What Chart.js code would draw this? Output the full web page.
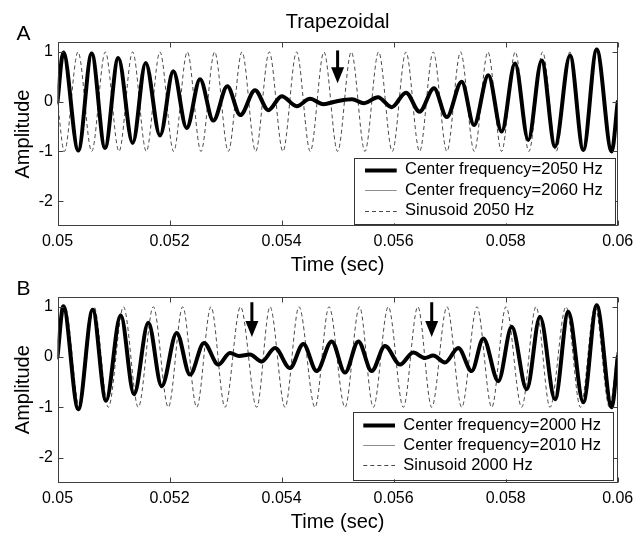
<!DOCTYPE html>
<html><head><meta charset="utf-8">
<script src="https://cdn.jsdelivr.net/npm/chart.js@4.4.1/dist/chart.umd.min.js"></script>
<style>
html,body{margin:0;padding:0;background:#fff;}
#wrap{position:relative;width:644px;height:545px;overflow:hidden;background:#fff;}
canvas{position:absolute;left:0;}
#cA{top:0;} #cB{top:272px;}
</style></head><body>
<div id="wrap"><canvas id="cA" width="644" height="280"></canvas><canvas id="cB" width="644" height="273"></canvas></div>
<script>
// ---------- data ----------
const xTickValues = [0.05, 0.052, 0.054, 0.056, 0.058, 0.06];
const yTickValues = [-2, -1, 0, 1];

// Panel A: extrema of the filtered signals
const timeA = [0.050000, 0.050104, 0.050371, 0.050610, 0.050848, 0.051085, 0.051342, 0.051574, 0.051830, 0.052067, 0.052306, 0.052544, 0.052781, 0.053031, 0.053263, 0.053526, 0.053763, 0.054002, 0.054270, 0.054507, 0.054745, 0.054989, 0.055257, 0.055471, 0.055721, 0.055966, 0.056221, 0.056462, 0.056721, 0.056948, 0.057215, 0.057435, 0.057690, 0.057929, 0.058167, 0.058404, 0.058643, 0.058881, 0.059149, 0.059386, 0.059625, 0.059893, 0.060000];
const centerA2050 = [0, 0.99, -0.98, 0.97, -0.93, 0.88, -0.83, 0.78, -0.68, 0.61, -0.53, 0.45, -0.38, 0.31, -0.27, 0.23, -0.17, 0.11, -0.09, 0.06, -0.05, 0.01, 0.05, -0.03, 0.09, -0.11, 0.18, -0.20, 0.27, -0.31, 0.40, -0.47, 0.53, -0.60, 0.77, -0.77, 0.83, -0.90, 0.93, -0.97, 1.05, -1.00, 0];
const centerA2060 = [0, 0.98, -0.97, 0.96, -0.92, 0.87, -0.82, 0.77, -0.67, 0.60, -0.52, 0.44, -0.37, 0.30, -0.26, 0.22, -0.16, 0.12, -0.07, 0.08, -0.03, 0.03, 0.03, -0.05, 0.11, -0.13, 0.20, -0.23, 0.29, -0.33, 0.42, -0.49, 0.55, -0.62, 0.78, -0.79, 0.85, -0.92, 0.95, -0.98, 1.04, -1.02, 0];
// Panel A: extrema of the 2050 Hz sinusoid
const sineTimeA = [0.050000, 0.050122, 0.050366, 0.050610, 0.050854, 0.051098, 0.051341, 0.051585, 0.051829, 0.052073, 0.052317, 0.052561, 0.052805, 0.053049, 0.053293, 0.053537, 0.053780, 0.054024, 0.054268, 0.054512, 0.054756, 0.055000, 0.055244, 0.055488, 0.055732, 0.055976, 0.056220, 0.056463, 0.056707, 0.056951, 0.057195, 0.057439, 0.057683, 0.057927, 0.058171, 0.058415, 0.058659, 0.058902, 0.059146, 0.059390, 0.059634, 0.059878, 0.060000];
const sineA2050 = [0, -1, 1, -1, 1, -1, 1, -1, 1, -1, 1, -1, 1, -1, 1, -1, 1, -1, 1, -1, 1, -1, 1, -1, 1, -1, 1, -1, 1, -1, 1, -1, 1, -1, 1, -1, 1, -1, 1, -1, 1, -1, 0];

// Panel B: extrema of the filtered signals
const timeB = [0.050000, 0.050104, 0.050371, 0.050628, 0.050866, 0.051128, 0.051366, 0.051621, 0.051860, 0.052128, 0.052365, 0.052615, 0.052870, 0.053079, 0.053240, 0.053436, 0.053645, 0.053883, 0.054150, 0.054388, 0.054627, 0.054895, 0.055132, 0.055370, 0.055609, 0.055846, 0.056114, 0.056351, 0.056560, 0.056708, 0.056917, 0.057155, 0.057394, 0.057601, 0.057869, 0.058108, 0.058376, 0.058613, 0.058881, 0.059118, 0.059386, 0.059625, 0.059893, 0.060000];
const centerB2000 = [0, 1.01, -1.04, 0.94, -0.87, 0.83, -0.74, 0.68, -0.58, 0.48, -0.35, 0.28, -0.15, 0.08, 0.02, 0.05, -0.09, 0.18, -0.22, 0.26, -0.28, 0.31, -0.31, 0.31, -0.28, 0.22, -0.15, 0.09, -0.02, 0.03, -0.11, 0.18, -0.28, 0.37, -0.48, 0.60, -0.64, 0.80, -0.84, 0.90, -0.90, 1.03, -1.00, 0];
const centerB2010 = [0, 1.00, -1.03, 0.95, -0.88, 0.84, -0.75, 0.69, -0.60, 0.50, -0.37, 0.30, -0.18, 0.11, 0.00, 0.07, -0.12, 0.20, -0.24, 0.28, -0.30, 0.33, -0.33, 0.33, -0.30, 0.24, -0.17, 0.11, -0.04, 0.05, -0.13, 0.20, -0.30, 0.39, -0.50, 0.61, -0.66, 0.81, -0.86, 0.91, -0.92, 1.02, -1.01, 0];
// Panel B: extrema of the 2000 Hz sinusoid
const sineTimeB = [0.050000, 0.050134, 0.050393, 0.050652, 0.050907, 0.051178, 0.051442, 0.051710, 0.051978, 0.052235, 0.052485, 0.052740, 0.052990, 0.053267, 0.053556, 0.053793, 0.054061, 0.054311, 0.054597, 0.054847, 0.055132, 0.055391, 0.055637, 0.055905, 0.056173, 0.056432, 0.056680, 0.056953, 0.057215, 0.057488, 0.057751, 0.058006, 0.058286, 0.058542, 0.058792, 0.059077, 0.059336, 0.059595, 0.059854, 0.060000];
const sineB2000 = [-0.05, 1, -1, 1, -1, 1, -1, 1, -1, 1, -1, 1, -1, 1, -1, 1, -1, 1, -1, 1, -1, 1, -1, 1, -1, 1, -1, 1, -1, 1, -1, 1, -1, 1, -1, 1, -1, 1, -1, 0.2];

const arrowTimesA = [0.055];
const arrowTimesB = [0.05347, 0.05668];

const labelsA = ['Center frequency=2050 Hz', 'Center frequency=2060 Hz', 'Sinusoid 2050 Hz'];
const labelsB = ['Center frequency=2000 Hz', 'Center frequency=2010 Hz', 'Sinusoid 2000 Hz'];

// ---------- rendering ----------
const FONT = '"Liberation Sans", Arial, Helvetica, sans-serif';
Chart.defaults.font.family = FONT;
Chart.defaults.color = '#000';

function pts(t, v) { return t.map((tt, i) => ({x: tt, y: v[i]})); }

const framePlugin = {
  id: 'frame',
  afterDatasetsDraw(chart, args, o) {
    const {ctx, chartArea: a, scales: {x, y}} = chart;
    ctx.save();
    // box
    ctx.strokeStyle = '#404040'; ctx.lineWidth = 1;
    const L = Math.round(a.left) + 0.5, R = Math.round(a.right) - 0.5, T = Math.round(a.top) + 0.5, B = Math.round(a.bottom) - 0.5;
    ctx.strokeRect(L, T, R - L, B - T);
    // inward ticks
    const tl = 5;
    ctx.beginPath();
    xTickValues.forEach(v => {
      const px = Math.round(x.getPixelForValue(v)) + 0.5;
      ctx.moveTo(px, B); ctx.lineTo(px, B - tl);
      ctx.moveTo(px, T); ctx.lineTo(px, T + tl);
    });
    yTickValues.forEach(v => {
      const py = Math.round(y.getPixelForValue(v)) + 0.5;
      ctx.moveTo(L, py); ctx.lineTo(L + tl, py);
      ctx.moveTo(R, py); ctx.lineTo(R - tl, py);
    });
    ctx.stroke();
    // arrows
    ctx.fillStyle = '#000';
    o.arrows.forEach(t => {
      const px = x.getPixelForValue(t);
      const top = y.getPixelForValue(o.arrowTop), tip = y.getPixelForValue(o.arrowTip);
      const headH = 16, headW = 6.5;
      ctx.fillRect(px - 1.5, top, 3, tip - top - headH + 1);
      ctx.beginPath();
      ctx.moveTo(px - headW, tip - headH); ctx.lineTo(px + headW, tip - headH); ctx.lineTo(px, tip);
      ctx.closePath(); ctx.fill();
    });
    // legend
    const lg = o.legend;
    ctx.fillStyle = '#fff';
    ctx.fillRect(lg.x, lg.y, lg.w, lg.h);
    ctx.strokeStyle = '#333'; ctx.lineWidth = 1;
    ctx.strokeRect(Math.round(lg.x) + 0.5, Math.round(lg.y) + 0.5, Math.round(lg.w), Math.round(lg.h));
    ctx.font = '16.5px ' + FONT;
    ctx.textBaseline = 'middle'; ctx.textAlign = 'left';
    chart.data.datasets.forEach((ds, i) => {
      const ry = lg.y + lg.row0 + lg.gap * i;
      ctx.save();
      ctx.strokeStyle = ds.borderColor; ctx.lineWidth = ds.borderWidth;
      ctx.setLineDash(ds.borderDash || []);
      ctx.beginPath();
      ctx.moveTo(lg.x + lg.s0, Math.round(ry) + 0.5); ctx.lineTo(lg.x + lg.s1, Math.round(ry) + 0.5);
      ctx.stroke();
      ctx.restore();
      ctx.fillStyle = '#000';
      ctx.fillText(ds.label, lg.x + lg.tx, ry);
    });
    // panel texts
    ctx.textBaseline = 'alphabetic';
    o.texts.forEach(tx => {
      ctx.font = tx.size + 'px ' + FONT;
      ctx.textAlign = tx.align;
      ctx.fillStyle = '#000';
      const xx = tx.center ? (a.left + a.right) / 2 : tx.x;
      ctx.fillText(tx.text, xx, tx.y);
    });
    ctx.restore();
  }
};

function makeChart(id, cfg) {
  const datasets = [
    {label: cfg.labels[0], data: pts(cfg.t, cfg.v1), borderColor: '#000', borderWidth: 4, borderJoinStyle: 'round', borderCapStyle: 'round'},
    {label: cfg.labels[1], data: pts(cfg.t, cfg.v2), borderColor: '#8c8c8c', borderWidth: 1},
    {label: cfg.labels[2], data: pts(cfg.st, cfg.sv), borderColor: '#4a4a4a', borderWidth: 1, borderDash: [4, 3]}
  ];
  datasets.forEach(d => { d.pointRadius = 0; d.pointHoverRadius = 0; d.fill = false; d.cubicInterpolationMode = 'monotone'; });
  return new Chart(document.getElementById(id), {
    type: 'line',
    data: {datasets},
    plugins: [framePlugin],
    options: {
      responsive: false, animation: false, events: [],
      layout: {padding: {left: 0, right: 26.3, top: cfg.padTop, bottom: 0}},
      scales: {
        x: {
          type: 'linear', min: 0.05, max: 0.06,
          afterBuildTicks: s => { s.ticks = xTickValues.map(v => ({value: v})); },
          afterFit: s => { s.height = cfg.xHeight; },
          grid: {display: false, drawTicks: false},
          border: {display: false},
          ticks: {padding: 6, font: {size: 16}, maxRotation: 0, autoSkip: false,
                  callback: v => String(parseFloat(Number(v).toFixed(4)))},
          title: {display: true, text: 'Time (sec)', font: {size: 20}, padding: {top: 0, bottom: cfg.xTitlePad}}
        },
        y: {
          type: 'linear', min: -2.5, max: 1.2,
          afterBuildTicks: s => { s.ticks = yTickValues.map(v => ({value: v})); },
          afterFit: s => { s.width = 57.5; },
          grid: {display: false, drawTicks: false},
          border: {display: false},
          ticks: {padding: 4.5, font: {size: 16}, callback: v => String(v)},
          title: {display: true, text: 'Amplitude', font: {size: 20}, padding: {top: 11, bottom: 0}}
        }
      },
      plugins: {
        legend: {display: false}, tooltip: {enabled: false},
        frame: {
          arrows: cfg.arrows, arrowTop: cfg.arrowTop, arrowTip: cfg.arrowTip,
          legend: cfg.legend, texts: cfg.texts
        }
      }
    }
  });
}

makeChart('cA', {
  labels: labelsA, t: timeA, v1: centerA2050, v2: centerA2060, st: sineTimeA, sv: sineA2050,
  padTop: 42, xHeight: 54, xTitlePad: 3,
  arrows: arrowTimesA, arrowTop: 1.03, arrowTip: 0.37,
  legend: {x: 354.3, y: 157.7, w: 261.4, h: 65.6, row0: 12, gap: 20.5, s0: 10.7, s1: 42.4, tx: 50.7},
  texts: [{text: 'Trapezoidal', center: true, y: 28.3, size: 20, align: 'center'},
          {text: 'A', x: 16.5, y: 40, size: 21, align: 'left'}]
});
makeChart('cB', {
  labels: labelsB, t: timeB, v1: centerB2000, v2: centerB2010, st: sineTimeB, sv: sineB2000,
  padTop: 24.7, xHeight: 62.3, xTitlePad: 10.6,
  arrows: arrowTimesB, arrowTop: 1.09, arrowTip: 0.40,
  legend: {x: 353.3, y: 139.7, w: 260, h: 67.6, row0: 13.3, gap: 20.2, s0: 10, s1: 41.7, tx: 50},
  texts: [{text: 'B', x: 16.5, y: 23, size: 21, align: 'left'}]
});
</script>
</body></html>
